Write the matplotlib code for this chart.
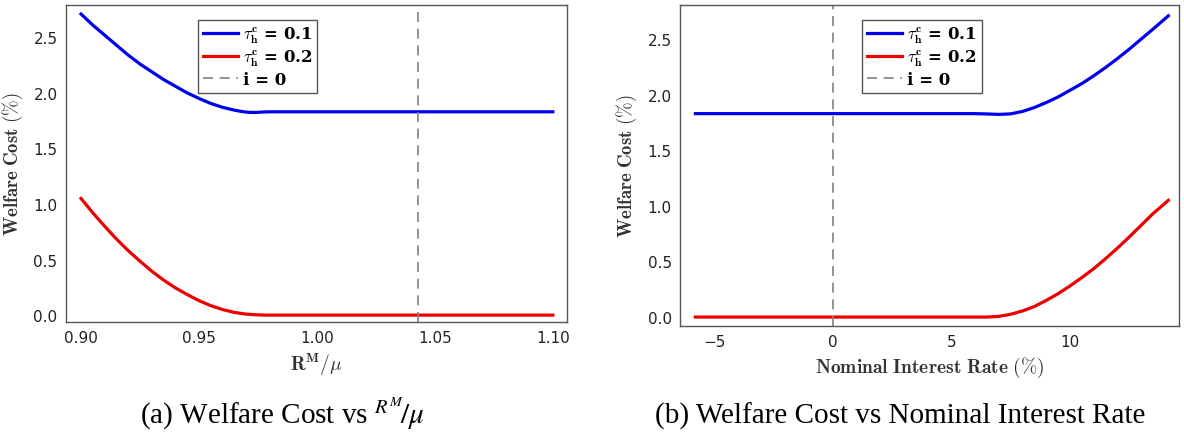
import matplotlib
matplotlib.use("Agg")
import matplotlib.pyplot as plt

plt.rcParams['mathtext.fontset'] = 'cm'

# panel (a): welfare cost against R^M / mu
rm_blue = [0.900, 0.905, 0.910, 0.915, 0.920, 0.925, 0.930, 0.935, 0.940, 0.945,
           0.950, 0.955, 0.960, 0.965, 0.968, 0.971, 0.974, 0.977, 0.980, 1.000,
           1.050, 1.100]
wc_blue_a = [2.71, 2.61, 2.52, 2.43, 2.34, 2.26, 2.19, 2.12, 2.06, 2.00,
             1.95, 1.905, 1.87, 1.845, 1.833, 1.825, 1.824, 1.828, 1.83, 1.83,
             1.83, 1.83]
rm_red = [0.900, 0.905, 0.910, 0.915, 0.920, 0.925, 0.930, 0.935, 0.940, 0.945,
          0.950, 0.955, 0.960, 0.965, 0.970, 0.974, 0.978, 1.000, 1.050, 1.100]
wc_red_a = [1.05, 0.92, 0.80, 0.685, 0.58, 0.485, 0.395, 0.315, 0.245, 0.185,
            0.13, 0.085, 0.05, 0.024, 0.009, 0.003, 0.0, 0.0, 0.0, 0.0]
rm_zero = 1.0428
ticks_a = [0.90, 0.95, 1.00, 1.05, 1.10]

# panel (b): welfare cost against nominal interest rate
i_blue = [-5.8, 0.0, 6.0, 6.5, 7.0, 7.5, 8.0, 8.5, 9.0, 9.5, 10.0,
          10.5, 11.0, 11.5, 12.0, 12.5, 13.0, 13.5, 14.15]
wc_blue_b = [1.83, 1.83, 1.83, 1.827, 1.823, 1.828, 1.85, 1.885, 1.93, 1.98, 2.04,
             2.10, 2.17, 2.245, 2.325, 2.41, 2.50, 2.59, 2.71]
i_red = [-5.8, 0.0, 6.5, 7.0, 7.5, 8.0, 8.5, 9.0, 9.5, 10.0,
         10.5, 11.0, 11.5, 12.0, 12.5, 13.0, 13.5, 14.15]
wc_red_b = [0.0, 0.0, 0.0, 0.006, 0.025, 0.055, 0.095, 0.15, 0.21, 0.28,
            0.355, 0.435, 0.525, 0.62, 0.72, 0.825, 0.93, 1.05]
i_zero = 0.0
ticks_b = [-5, 0, 5, 10]

# non-math parts of the labels take the bold serif legend font
lab_blue = r'$\tau^{\mathbf{c}}_{\mathbf{h}}$ = 0.1'
lab_red = r'$\tau^{\mathbf{c}}_{\mathbf{h}}$ = 0.2'
lab_zero = 'i = 0'

fig = plt.figure(figsize=(11.84, 4.39), dpi=100)
ax1 = fig.add_axes([0.0557, 0.264, 0.423, 0.722])
ax2 = fig.add_axes([0.5743, 0.255, 0.4215, 0.731])


def style(ax):
    for s in ax.spines.values():
        s.set_color('#555555')
        s.set_linewidth(1.0)
    ax.tick_params(length=0, labelsize=11, labelcolor='#222222', pad=6)
    ax.set_ylabel(r'$\mathbf{Welfare\ Cost}\ (\%)$', fontsize=13.5, color='#333333',
                  labelpad=6)
    ax.set_yticks([0.0, 0.5, 1.0, 1.5, 2.0, 2.5])
    leg = ax.legend(loc='upper left', handlelength=2.1,
                    prop={'family': 'DejaVu Serif', 'weight': 'bold', 'size': 12},
                    fancybox=False, framealpha=1, edgecolor='#555555',
                    borderpad=0.3, labelspacing=0.15, handletextpad=0.3,
                    borderaxespad=0)
    leg.get_frame().set_linewidth(1.0)
    return leg


ax1.plot(rm_blue, wc_blue_a, color='#0000ee', lw=2.3, label=lab_blue)
ax1.plot(rm_red, wc_red_a, color='#ee0000', lw=2.3, label=lab_red)
ax1.axvline(rm_zero, color='#808080', lw=1.2, ls=(0, (6, 4)), label=lab_zero)
ax1.set_xlim(0.8936, 1.1059)
ax1.set_ylim(-0.063, 2.79)
ax1.set_xticks(ticks_a)
ax1.set_xticklabels(['%.2f' % t for t in ticks_a])
ax1.set_xlabel(r'$\mathbf{R^M}/\mu$', fontsize=14, color='#333333', labelpad=4)
leg1 = style(ax1)
leg1.set_bbox_to_anchor((0.263, 0.953))

ax2.plot(i_blue, wc_blue_b, color='#0000ee', lw=2.3, label=lab_blue)
ax2.plot(i_red, wc_red_b, color='#ee0000', lw=2.3, label=lab_red)
ax2.axvline(i_zero, color='#808080', lw=1.2, ls=(0, (6, 4)), label=lab_zero)
ax2.set_xlim(-6.45, 14.6)
ax2.set_ylim(-0.081, 2.806)
ax2.set_xticks(ticks_b)
ax2.set_xlabel(r'$\mathbf{Nominal\ Interest\ Rate}\ (\%)$', fontsize=14,
               color='#333333', labelpad=4)
leg2 = style(ax2)
leg2.set_bbox_to_anchor((0.365, 0.953))

fig.text(0.238, 0.036, r'(a) Welfare Cost vs $^{R^M}\!/\mu$', ha='center', va='baseline',
         fontsize=21, family='Liberation Serif', math_fontfamily='stix')
fig.text(0.760, 0.036, '(b) Welfare Cost vs Nominal Interest Rate', ha='center',
         va='baseline', fontsize=21, family='Liberation Serif')

fig.savefig('out.png', dpi=100)
